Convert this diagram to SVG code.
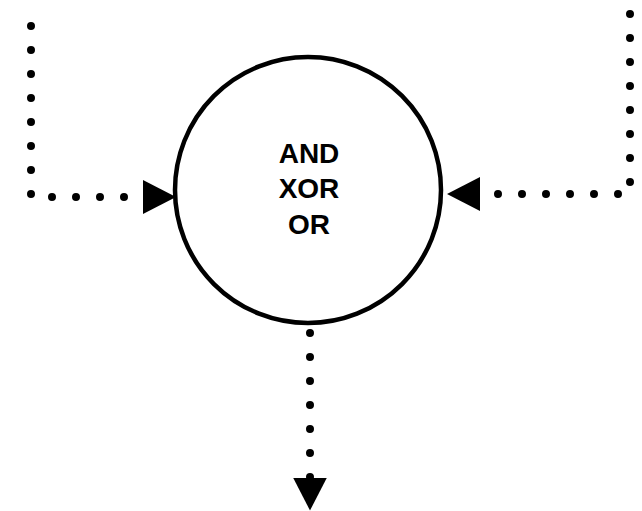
<svg xmlns="http://www.w3.org/2000/svg" width="642" height="511" viewBox="0 0 642 511">
  <style>
    .conn { fill: none; stroke: #000; stroke-width: 8; stroke-linecap: round; stroke-dasharray: 0 24; }
    .node { fill: #fff; stroke: #000; stroke-width: 4.5; }
    .label { font-family: "Liberation Sans", Arial, sans-serif; font-weight: bold; font-size: 28px; fill: #000; text-anchor: middle; }
  </style>
  <defs>
    <marker id="arrow" viewBox="0 0 33 34" refX="0" refY="17" markerWidth="33" markerHeight="34" markerUnits="userSpaceOnUse" orient="auto">
      <path d="M0,0 L33,17 L0,34 Z" fill="#000"/>
    </marker>
  </defs>
  <rect width="642" height="511" fill="#fff"/>
  <g id="gate">
    <circle class="node" cx="308" cy="190" r="133"/>
    <text class="label" x="309" y="163">AND</text>
    <text class="label" x="309" y="198">XOR</text>
    <text class="label" x="309" y="234">OR</text>
  </g>
  <g id="connectors">
    <path class="conn" d="M31,26 L31,197 L143,197" marker-end="url(#arrow)"/>
    <path class="conn" d="M630,14 L630,194 L480,194" marker-end="url(#arrow)"/>
    <path class="conn" d="M310,333 L310,477.5" marker-end="url(#arrow)"/>
  </g>
</svg>
